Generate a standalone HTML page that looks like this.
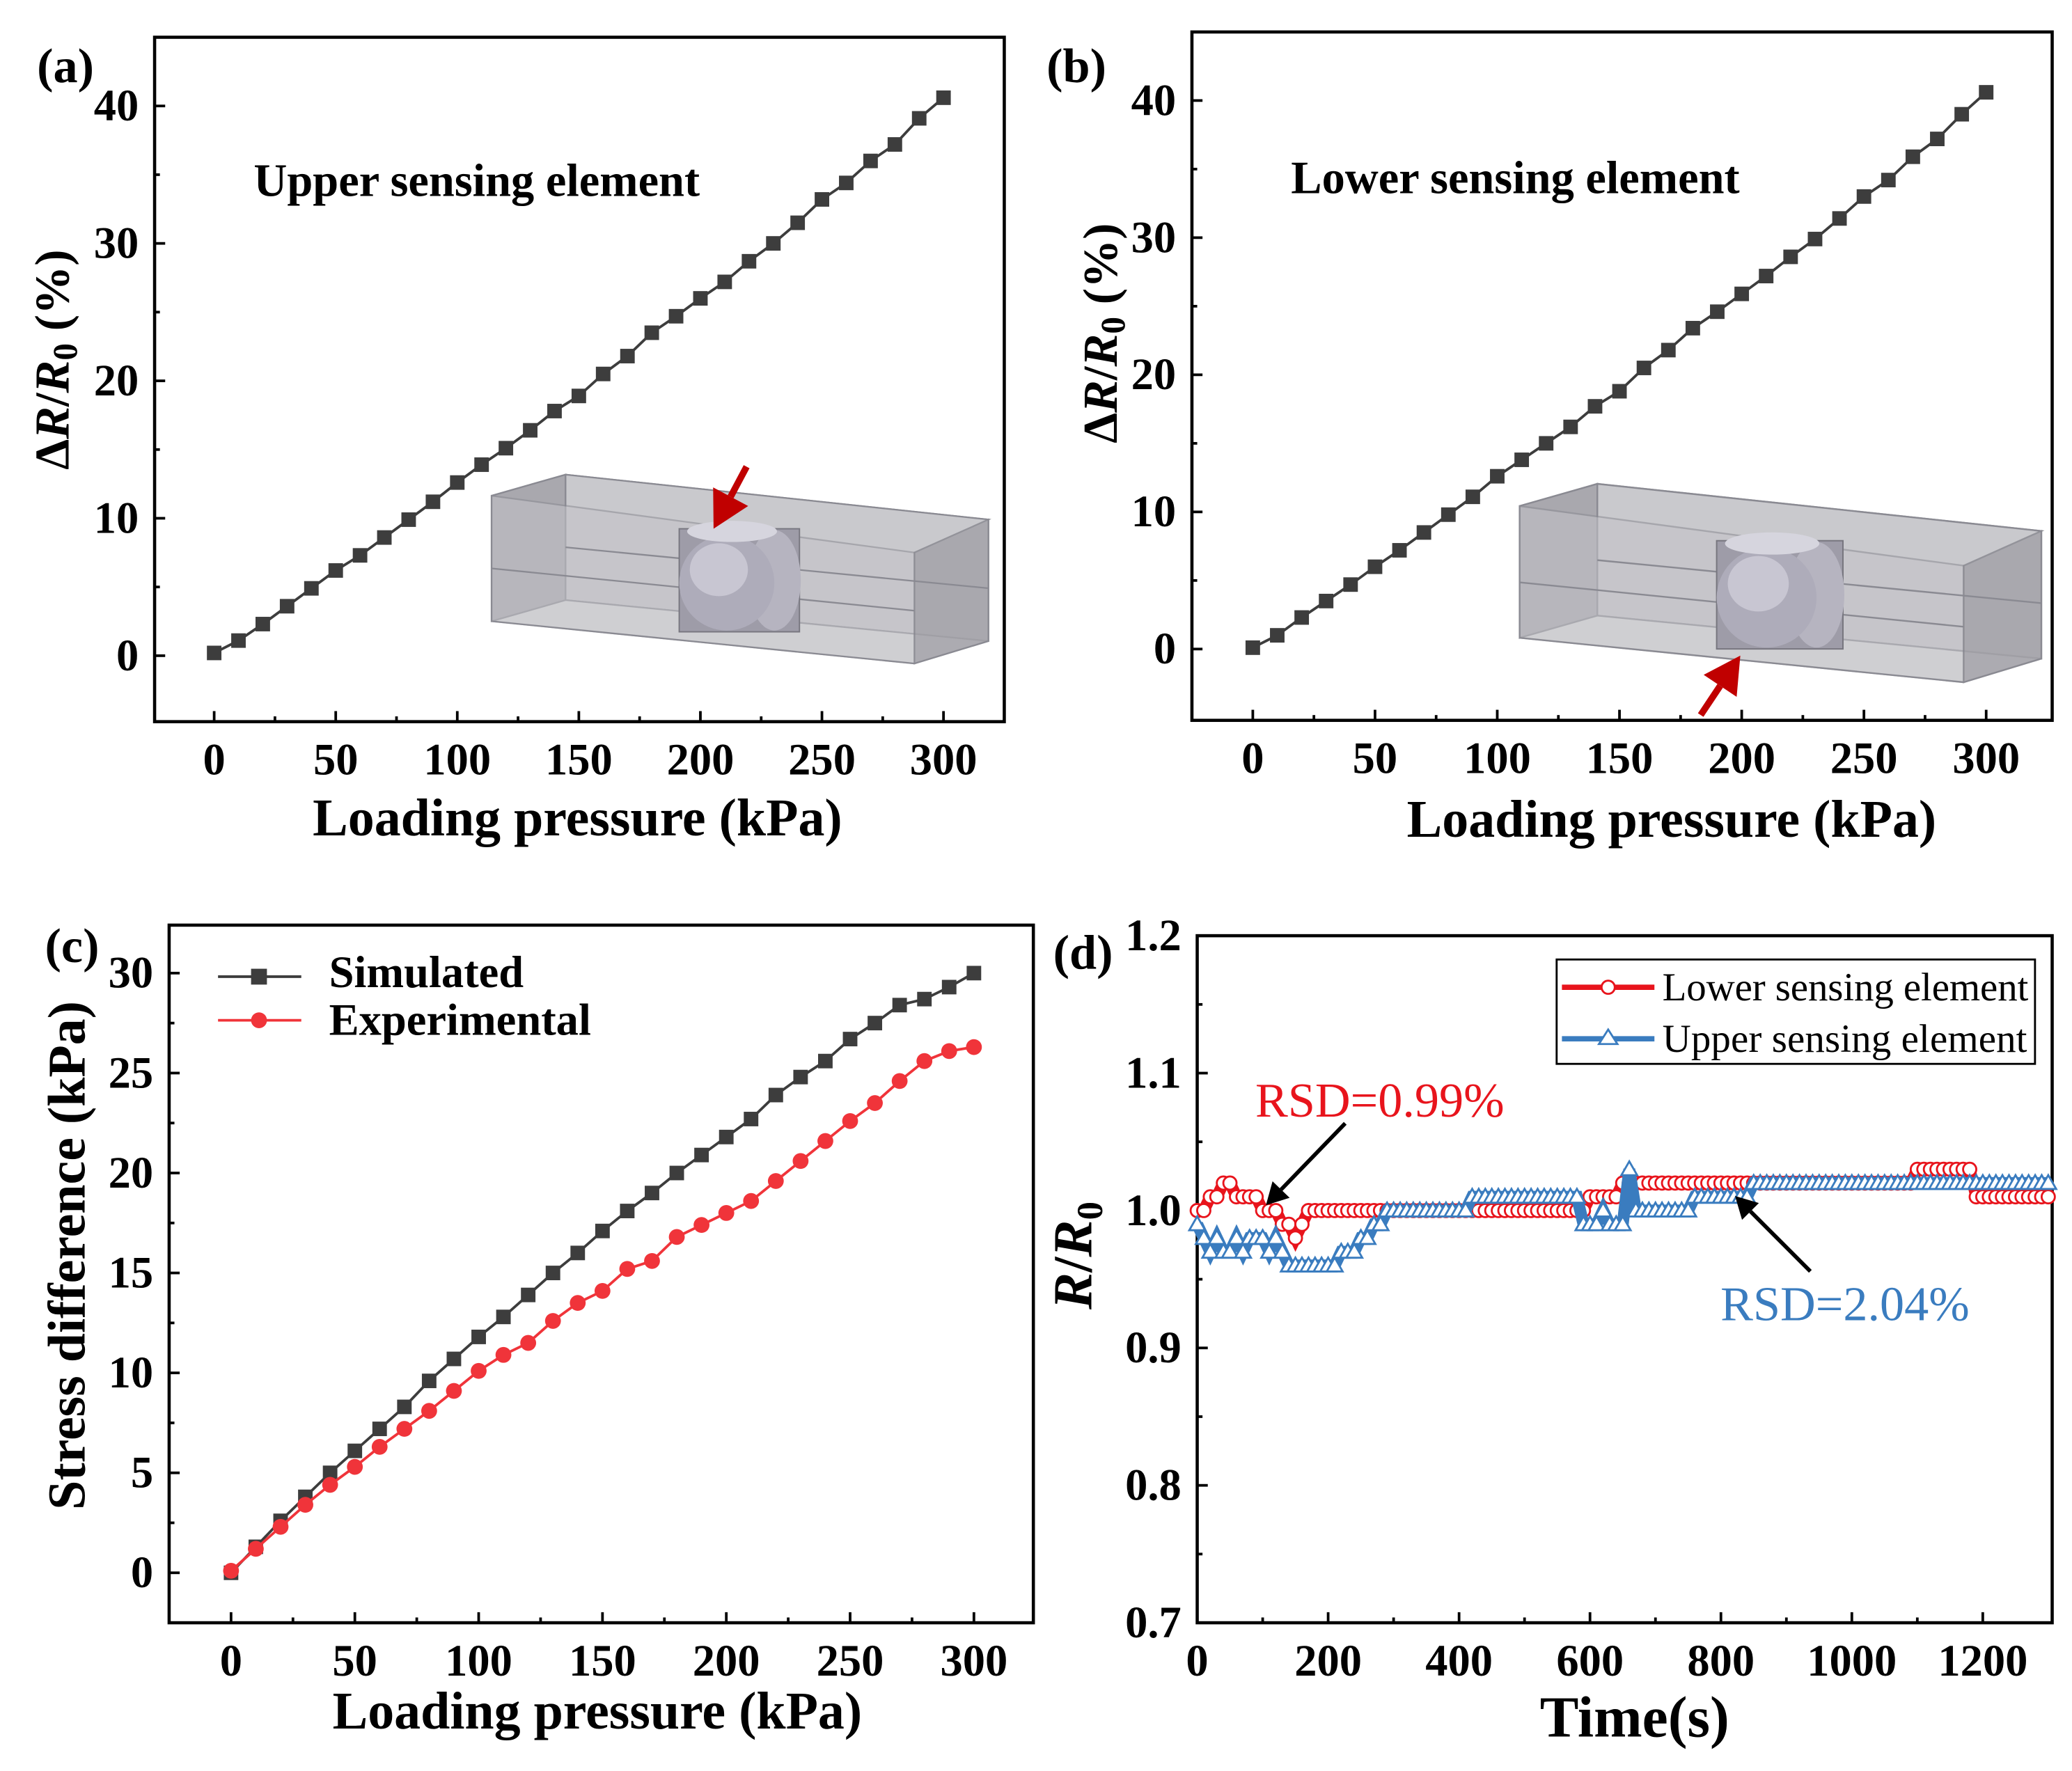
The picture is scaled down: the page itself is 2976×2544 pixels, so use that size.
<!DOCTYPE html>
<html><head><meta charset="utf-8">
<style>
html,body{margin:0;padding:0;background:#fff;}
svg{display:block;font-family:"Liberation Serif",serif;}
</style></head>
<body>
<svg id="fig" width="2976" height="2544" viewBox="0 0 1568 1340" xmlns="http://www.w3.org/2000/svg"></svg>
<script>
// ---------- DATA ----------
const pressure = [0,10,20,30,40,50,60,70,80,90,100,110,120,130,140,150,160,170,180,190,200,210,220,230,240,250,260,270,280,290,300];
const upperDR = [0.2,1.1,2.3,3.6,4.9,6.2,7.3,8.6,9.9,11.2,12.6,13.9,15.1,16.4,17.8,18.9,20.5,21.8,23.5,24.7,26,27.2,28.7,30,31.5,33.2,34.4,36,37.2,39.1,40.6];
const lowerDR = [0.1,1,2.3,3.5,4.7,6,7.2,8.5,9.8,11.1,12.6,13.8,15,16.2,17.7,18.8,20.5,21.8,23.4,24.6,25.9,27.2,28.6,29.9,31.4,33,34.2,35.9,37.2,39,40.6];
const simulated = [0,1.3,2.6,3.8,5,6.1,7.2,8.3,9.6,10.7,11.8,12.8,13.9,15,16,17.1,18.1,19,20,20.9,21.8,22.7,23.9,24.8,25.6,26.7,27.5,28.4,28.7,29.3,30];
const experimental = [0.1,1.2,2.3,3.4,4.4,5.3,6.3,7.2,8.1,9.1,10.1,10.9,11.5,12.6,13.5,14.1,15.2,15.6,16.8,17.4,18,18.6,19.6,20.6,21.6,22.6,23.5,24.6,25.6,26.1,26.3];
const timeStep = 10;
const lowerRR = [1.00,1.00,1.01,1.01,1.02,1.02,1.01,1.01,1.01,1.01,
1.00,1.00,1.00,0.99,0.99,0.98,0.99,1.00,1.00,1.00,
1.00,1.00,1.00,1.00,1.00,1.00,1.00,1.00,1.00,1.00,
1.00,1.00,1.00,1.00,1.00,1.00,1.00,1.00,1.00,1.00,
1.00,1.00,1.00,1.00,1.00,1.00,1.00,1.00,1.00,1.00,
1.00,1.00,1.00,1.00,1.00,1.00,1.00,1.00,1.00,1.00,
1.01,1.01,1.01,1.01,1.01,
1.02,1.02,1.02,1.02,1.02,1.02,1.02,1.02,1.02,1.02,
1.02,1.02,1.02,1.02,1.02,1.02,1.02,1.02,1.02,1.02,
1.02,1.02,1.02,1.02,1.02,1.02,1.02,1.02,1.02,1.02,
1.02,1.02,1.02,1.02,1.02,1.02,1.02,1.02,1.02,1.02,
1.02,1.02,1.02,1.02,1.02,
1.03,1.03,1.03,1.03,1.03,1.03,1.03,1.03,1.03,
1.01,1.01,1.01,1.01,1.01,1.01,1.01,1.01,1.01,1.01,1.01,1.01];
const upperRR = [0.99,0.98,0.97,0.98,0.97,0.97,0.98,0.97,0.98,0.98,
0.98,0.97,0.98,0.97,0.96,0.96,0.96,0.96,0.96,0.96,
0.96,0.96,0.97,0.97,0.97,0.98,0.98,0.99,0.99,1.00,
1.00,1.00,1.00,1.00,1.00,1.00,1.00,1.00,1.00,1.00,1.00,1.00,
1.01,1.01,1.01,1.01,1.01,1.01,1.01,1.01,1.01,1.01,1.01,1.01,1.01,1.01,1.01,1.01,1.01,
0.99,0.99,0.99,1.00,0.99,0.99,0.99,
1.03,
1.00,1.00,1.00,1.00,1.00,1.00,1.00,1.00,1.00,
1.01,1.01,1.01,1.01,1.01,1.01,1.01,1.01,1.01,
1.02,1.02,1.02,1.02,1.02,1.02,1.02,1.02,1.02,1.02,
1.02,1.02,1.02,1.02,1.02,1.02,1.02,1.02,1.02,1.02,
1.02,1.02,1.02,1.02,1.02,1.02,1.02,1.02,1.02,1.02,
1.02,1.02,1.02,1.02,1.02,1.02,1.02,1.02,1.02,1.02,
1.02,1.02,1.02,1.02,1.02,1.02];
const ticksAB_x = [0,50,100,150,200,250,300];
const ticksAB_y = [0,10,20,30,40];
const ticksC_y = [0,5,10,15,20,25,30];
const ticksD_x = [0,200,400,600,800,1000,1200];
const ticksD_y = [0.7,0.8,0.9,1.0,1.1,1.2];

// ---------- HELPERS ----------
const NS='http://www.w3.org/2000/svg';
const fig=document.getElementById('fig');
function el(tag,attrs,parent,text){
  const e=document.createElementNS(NS,tag);
  for(const k in attrs) e.setAttribute(k,attrs[k]);
  if(text!==undefined) e.textContent=text;
  (parent||fig).appendChild(e);
  return e;
}
function scale(d0,d1,r0,r1){return v=>r0+(v-d0)/(d1-d0)*(r1-r0);}

function panel(cfg){
  const g=el('g',{});
  
  
  const X=scale(cfg.xd[0],cfg.xd[1],cfg.box[0],cfg.box[2]);
  const Y=scale(cfg.yd[0],cfg.yd[1],cfg.box[3],cfg.box[1]);
  const [L,T,R,B]=cfg.box;
  const frame=el('rect',{x:L,y:T,width:R-L,height:B-T,fill:'none',stroke:'#000','stroke-width':2.4},g);
  
  
  const fs=cfg.tfs||34;
  cfg.xt.forEach(v=>{
    el('line',{x1:X(v),x2:X(v),y1:B,y2:B-8,stroke:'#000','stroke-width':2},g);
    const t=el('text',{x:X(v),y:B+40,'text-anchor':'middle','font-size':fs,'font-weight':'bold'},g,v);
    
    
  });
  for(let i=0;i<cfg.xt.length-1;i++){const m=(cfg.xt[i]+cfg.xt[i+1])/2;el('line',{x1:X(m),x2:X(m),y1:B,y2:B-4,stroke:'#000','stroke-width':2},g);}
  cfg.yt.forEach(v=>{
    el('line',{x1:L,x2:L+8,y1:Y(v),y2:Y(v),stroke:'#000','stroke-width':2},g);
    const t=el('text',{x:L-12,y:Y(v)+11,'text-anchor':'end','font-size':fs,'font-weight':'bold'},g,cfg.yfmt?cfg.yfmt(v):v);
    
    
  });
  for(let i=0;i<cfg.yt.length-1;i++){const m=(cfg.yt[i]+cfg.yt[i+1])/2;el('line',{x1:L,x2:L+4,y1:Y(m),y2:Y(m),stroke:'#000','stroke-width':2},g);}
  return {g,X,Y};
}
function series(p,xs,ys,color,marker,name,lw,ms){
  const g=el('g',{},p.g);
  
  
  const pts=xs.map((x,i)=>p.X(x)+','+p.Y(ys[i])).join(' ');
  el('polyline',{points:pts,fill:'none',stroke:color,'stroke-width':lw||2},g);
  xs.forEach((x,i)=>{
    const cx=p.X(x),cy=p.Y(ys[i]);
    let m;
    if(marker==='square') m=el('rect',{x:cx-ms,y:cy-ms,width:2*ms,height:2*ms,fill:color},g);
    else if(marker==='dot') m=el('circle',{cx:cx,cy:cy,r:ms,fill:color},g);
    else if(marker==='ocircle') m=el('circle',{cx:cx,cy:cy,r:ms,fill:'#fff',stroke:color,'stroke-width':1.5},g);
    else m=el('polygon',{points:`${cx},${cy-ms} ${cx-ms},${cy+ms*0.75} ${cx+ms},${cy+ms*0.75}`,fill:'#fff',stroke:color,'stroke-width':1.5},g);
    
    
  });
}
function txt(x,y,s,attrs,name){
  const t=el('text',Object.assign({x:x,y:y},attrs),fig,s);
  
  
  return t;
}
function inset(ox,oy,s,name){
  const g=el('g',{transform:`translate(${ox},${oy}) scale(${s})`});
  
  
  const st={stroke:'#8a8a92','stroke-width':1.2};
  el('polygon',Object.assign({points:'0,16 56,0 376,34 320,59',fill:'#dcdcde'},st),g);
  el('polygon',Object.assign({points:'0,16 56,0 56,95 0,111',fill:'#a9a8ae'},st),g);
  el('polygon',Object.assign({points:'56,0 376,34 376,126 56,95',fill:'#c9c9cd'},st),g);
  el('polygon',Object.assign({points:'0,111 56,95 376,126 320,143',fill:'#dedee0'},st),g);
  el('polygon',Object.assign({points:'320,59 376,34 376,126 320,143',fill:'#a4a3a9',opacity:0.85},st),g);
  el('polygon',Object.assign({points:'0,16 320,59 320,143 0,111',fill:'#c4c3c8',opacity:0.55},st),g);
  el('line',{x1:0,y1:71,x2:320,y2:103,stroke:'#8a8a92','stroke-width':1.2},g);
  el('line',{x1:56,y1:55,x2:376,y2:86,stroke:'#8a8a92','stroke-width':1.2},g);
  el('rect',{x:142,y:41,width:91,height:78,fill:'#9e9ca8',stroke:'#77767f'},g);
  el('ellipse',{cx:214,cy:80,rx:20,ry:38,fill:'#b6b4c0'},g);
  el('circle',{cx:178,cy:82,r:36,fill:'#aeacba'},g);
  el('ellipse',{cx:172,cy:72,rx:22,ry:20,fill:'#c8c6d2'},g);
  el('ellipse',{cx:182,cy:43,rx:34,ry:8,fill:'#d6d5de'},g);
}
function arrow(x1,y1,x2,y2,color,w,name){
  const g=el('g',{});
  
  
  const a=Math.atan2(y2-y1,x2-x1),h=w*5.5,hw=w*3;
  const bx=x2-h*Math.cos(a),by=y2-h*Math.sin(a);
  el('line',{x1:x1,y1:y1,x2:bx,y2:by,stroke:color,'stroke-width':w},g);
  el('polygon',{points:`${x2},${y2} ${bx-hw*Math.sin(a)},${by+hw*Math.cos(a)} ${bx+hw*Math.sin(a)},${by-hw*Math.cos(a)}`,fill:color},g);
}

// ---------- PANEL A ----------
const pa=panel({name:'panel-a',box:[117,28,760,546],xd:[-24.5,325],yd:[-4.8,45],xt:ticksAB_x,yt:ticksAB_y});
inset(372,359,1,'inset-upper-model');
series(pa,pressure,upperDR,'#3d3d3d','square','series-upper',2,5.5);
arrow(565,353,540,400,'#c00000',5,'arrow-upper');
txt(192,148,'Upper sensing element',{'font-size':35,'font-weight':'bold'},'annotation-upper');
txt(28,62,'(a)',{'font-size':37,'font-weight':'bold'},'panel-label-a');
txt(437,632,'Loading pressure (kPa)',{'font-size':40,'font-weight':'bold','text-anchor':'middle'},'x-axis-title-a');
const ya=el('text',{transform:'translate(52,272) rotate(-90)','text-anchor':'middle','font-size':37,'font-weight':'bold'},fig);


ya.innerHTML='Δ<tspan font-style="italic">R</tspan>/<tspan font-style="italic">R</tspan><tspan font-size="26" dy="6">0</tspan><tspan dy="-6"> (%)</tspan>';

// ---------- PANEL B ----------
const pb=panel({name:'panel-b',box:[902,24,1553,545],xd:[-24.9,327],yd:[-5.2,45],xt:ticksAB_x,yt:ticksAB_y});
inset(1150,366,1.05,'inset-lower-model');
series(pb,pressure,lowerDR,'#3d3d3d','square','series-lower',2,5.5);
arrow(1287,541,1317,496,'#c00000',5,'arrow-lower');
txt(977,146,'Lower sensing element',{'font-size':35,'font-weight':'bold'},'annotation-lower');
txt(792,62,'(b)',{'font-size':37,'font-weight':'bold'},'panel-label-b');
txt(1265,633,'Loading pressure (kPa)',{'font-size':40,'font-weight':'bold','text-anchor':'middle'},'x-axis-title-b');
const yb=el('text',{transform:'translate(845,252) rotate(-90)','text-anchor':'middle','font-size':37,'font-weight':'bold'},fig);


yb.innerHTML='Δ<tspan font-style="italic">R</tspan>/<tspan font-style="italic">R</tspan><tspan font-size="26" dy="6">0</tspan><tspan dy="-6"> (%)</tspan>';

// ---------- PANEL C ----------
const pc=panel({name:'panel-c',box:[128,700,782,1228],xd:[-25,324],yd:[-2.5,32.4],xt:ticksAB_x,yt:ticksC_y});
series(pc,pressure,simulated,'#3d3d3d','square','series-simulated',2,5.5);
series(pc,pressure,experimental,'#f0343a','dot','series-experimental',2,6);
const lc=el('g',{});
el('line',{x1:165,x2:228,y1:739,y2:739,stroke:'#3d3d3d','stroke-width':2},lc);
el('rect',{x:190,y:733,width:12,height:12,fill:'#3d3d3d'},lc);
el('line',{x1:165,x2:228,y1:772,y2:772,stroke:'#f0343a','stroke-width':2},lc);
el('circle',{cx:196,cy:772,r:6,fill:'#f0343a'},lc);
txt(249,747,'Simulated',{'font-size':34,'font-weight':'bold'},'legend-entry-simulated');
txt(249,783,'Experimental',{'font-size':34,'font-weight':'bold'},'legend-entry-experimental');
txt(34,728,'(c)',{'font-size':37,'font-weight':'bold'},'panel-label-c');
txt(452,1308,'Loading pressure (kPa)',{'font-size':40,'font-weight':'bold','text-anchor':'middle'},'x-axis-title-c');
txt(0,0,'Stress difference (kPa)',{transform:'translate(64,950) rotate(-90)','text-anchor':'middle','font-size':40,'font-weight':'bold'},'y-axis-title-c');

// ---------- PANEL D ----------
const pd=panel({name:'panel-d',box:[906,708,1553,1228],xd:[0,1306],yd:[0.7,1.2],xt:ticksD_x,yt:ticksD_y,yfmt:v=>v.toFixed(1)});
const tD=lowerRR.map((_,i)=>i*timeStep);
const tU=upperRR.map((_,i)=>i*timeStep);
series(pd,tD,lowerRR,'#e8141c','ocircle','series-lower-rr',9,5);
series(pd,tU,upperRR,'#3a7cbf','triangle','series-upper-rr',9,6);
const ld=el('g',{});
el('rect',{x:1178,y:726,width:362,height:79,fill:'#fff',stroke:'#000','stroke-width':1.5},ld);
el('line',{x1:1182,x2:1252,y1:747,y2:747,stroke:'#e8141c','stroke-width':4},ld);
el('circle',{cx:1217,cy:747,r:5,fill:'#fff',stroke:'#e8141c','stroke-width':1.5},ld);
el('line',{x1:1182,x2:1252,y1:786,y2:786,stroke:'#3a7cbf','stroke-width':4},ld);
el('polygon',{points:'1217,779 1210,790 1224,790',fill:'#fff',stroke:'#3a7cbf','stroke-width':1.5},ld);
txt(1258,757,'Lower sensing element',{'font-size':30,'textLength':277},'legend-entry-lower');
txt(1258,796,'Upper sensing element',{'font-size':30,'textLength':276},'legend-entry-upper');
txt(950,845,'RSD=0.99%',{'font-size':37,fill:'#e8141c'},'annotation-rsd-lower');
txt(1302,999,'RSD=2.04%',{'font-size':37,fill:'#3a7cbf'},'annotation-rsd-upper');
arrow(1018,850,958,912,'#000',3,'arrow-rsd-lower');
arrow(1370,962,1313,905,'#000',3,'arrow-rsd-upper');
txt(797,733,'(d)',{'font-size':37,'font-weight':'bold'},'panel-label-d');
txt(1237,1314,'Time(s)',{'font-size':44,'font-weight':'bold','text-anchor':'middle'},'x-axis-title-d');
const yd=el('text',{transform:'translate(826,950) rotate(-90)','text-anchor':'middle','font-size':42,'font-weight':'bold'},fig);


yd.innerHTML='<tspan font-style="italic">R</tspan>/<tspan font-style="italic">R</tspan><tspan font-size="28" dy="8">0</tspan>';
</script>
</body></html>
